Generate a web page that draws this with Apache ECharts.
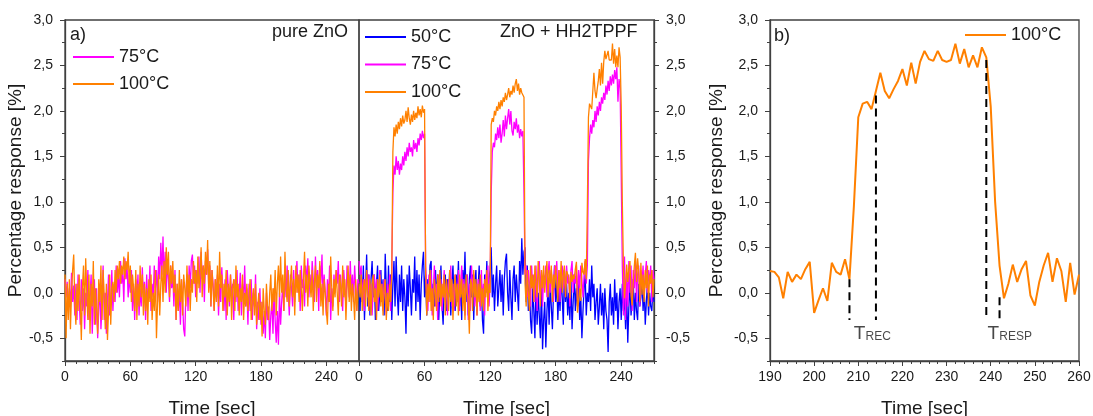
<!DOCTYPE html>
<html><head><meta charset="utf-8">
<script src="https://cdn.jsdelivr.net/npm/echarts@6/dist/echarts.min.js"></script>
<style>html,body{margin:0;padding:0;background:#fff}#c{width:1093px;height:416px}</style>
</head><body><div id="c"></div>
<script>
// ---- data (one sample per second, starting at t = 0 s) ----
const STEP = 1;
const pureZnO_75 = [
0.15,-0.05,0.12,-0.2,0.05,-0.15,0.22,-0.1,0.08,-0.25,
0.1,-0.3,0.2,-0.05,-0.35,0.15,-0.2,0.05,-0.4,0.0,
-0.15,0.25,-0.3,-0.05,0.2,-0.45,-0.1,0.15,-0.35,0.05,
-0.5,-0.2,0.1,-0.4,-0.15,0.3,-0.3,0.0,-0.45,-0.1,
0.2,-0.25,-0.05,0.25,-0.2,0.1,-0.1,0.3,0.0,0.2,
-0.05,0.35,0.1,0.25,-0.1,0.38,0.15,0.3,-0.05,0.2,
0.0,0.25,-0.2,0.1,-0.3,0.15,-0.1,0.2,-0.25,0.05,
-0.15,0.28,-0.05,0.12,-0.3,0.2,-0.1,0.0,0.3,-0.2,
0.1,-0.05,0.3,0.05,0.25,-0.1,0.4,0.15,0.55,0.2,
0.62,0.1,0.45,0.0,0.35,0.15,-0.1,0.3,0.05,0.2,
-0.15,0.25,-0.3,0.1,-0.2,0.05,-0.35,0.15,-0.1,-0.4,
-0.48,0.0,0.2,-0.2,0.3,0.05,0.35,0.42,0.1,0.3,
-0.05,0.25,0.1,0.4,0.0,0.45,0.15,0.3,-0.1,0.35,
0.2,0.48,0.05,0.3,-0.15,0.25,0.1,-0.2,0.15,-0.05,
0.2,-0.25,0.1,-0.1,0.28,0.0,-0.2,0.15,-0.3,0.25,
0.05,-0.15,0.2,-0.05,0.1,-0.3,0.15,-0.1,0.25,-0.2,
0.0,0.22,-0.25,0.1,-0.1,0.3,-0.15,0.05,-0.35,0.1,
-0.2,0.15,-0.3,0.0,-0.15,0.2,-0.4,-0.1,-0.3,0.05,
-0.35,-0.1,-0.45,-0.2,-0.5,0.0,-0.3,-0.15,-0.52,-0.25,
-0.1,-0.45,0.05,-0.3,-0.55,-0.2,-0.57,0.0,-0.35,-0.1,
0.1,-0.2,0.25,-0.05,0.3,0.0,-0.25,0.2,0.05,-0.15,
0.25,-0.1,0.15,0.35,0.0,0.2,-0.2,0.3,0.05,0.15,
-0.15,0.3,0.1,0.38,-0.05,0.2,0.0,0.35,0.15,-0.1,
0.4,0.05,0.25,-0.2,0.3,0.1,0.42,-0.05,0.2,0.0,
-0.25,0.15,-0.1,0.3,-0.3,0.05,-0.15,0.2,0.0,0.25,
0.1,0.35,-0.1,0.2,0.0,-0.2,0.25,0.05,-0.15,0.3,
0.1,-0.05,0.35,0.0,0.2,-0.1,0.3,0.05,-0.2,0.15,0.1];
const pureZnO_100 = [
0.2,-0.5,0.1,-0.3,0.15,-0.4,0.0,0.25,0.42,-0.1,
-0.35,0.1,-0.2,0.2,-0.1,-0.52,0.05,0.3,-0.25,0.38,
0.0,-0.3,0.2,-0.45,0.1,-0.15,0.35,-0.35,0.05,-0.2,
-0.45,0.15,-0.1,0.3,-0.3,0.25,-0.05,-0.4,0.1,-0.52,
-0.2,0.2,-0.35,0.05,0.12,-0.1,0.25,0.0,0.3,0.15,
0.35,0.1,0.3,0.2,0.4,0.15,0.35,0.25,0.45,0.1,
0.3,-0.1,0.2,0.05,-0.2,0.25,-0.3,0.1,-0.15,0.3,
-0.05,0.2,-0.25,0.1,-0.2,0.05,-0.35,0.15,-0.1,0.2,
-0.3,0.0,-0.2,0.25,-0.5,-0.1,0.2,-0.25,0.1,0.3,
-0.1,0.35,0.0,0.5,0.2,0.45,-0.05,0.3,0.1,0.35,
0.0,0.2,-0.3,0.1,-0.2,0.25,-0.1,0.15,-0.25,0.2,
0.05,-0.15,0.3,-0.05,0.2,-0.2,0.15,0.0,0.35,0.1,
0.25,-0.1,0.4,0.05,0.2,0.5,-0.05,0.3,0.1,0.45,
0.2,0.58,0.0,0.35,-0.15,0.25,0.05,-0.2,0.15,-0.1,
0.3,-0.15,0.45,0.05,0.2,-0.2,0.1,-0.05,0.25,-0.25,
0.1,-0.1,0.2,-0.3,0.05,0.15,-0.2,0.3,-0.05,0.1,
-0.25,0.05,-0.1,0.2,-0.3,0.0,-0.15,0.1,-0.2,-0.05,
0.15,-0.3,-0.1,0.05,-0.25,0.1,-0.35,-0.15,0.0,-0.3,
-0.1,-0.48,0.05,-0.2,-0.35,0.1,-0.15,-0.3,0.0,0.2,
-0.2,0.05,-0.1,0.25,-0.25,0.1,0.3,-0.05,0.4,0.0,
0.2,-0.2,0.45,0.05,-0.1,0.25,-0.15,0.1,0.3,-0.05,
0.15,-0.25,0.3,0.0,0.2,-0.1,0.25,0.05,-0.2,0.15,
0.45,0.0,0.2,-0.15,0.3,0.1,-0.05,0.25,-0.2,0.1,
0.3,-0.1,0.2,0.05,0.35,-0.15,0.1,-0.25,0.15,0.0,
-0.2,-0.35,0.1,-0.1,0.4,0.05,-0.2,0.15,-0.05,0.25,
0.0,-0.25,0.2,0.1,-0.15,0.3,-0.05,0.15,-0.3,0.05,
0.3,-0.1,0.2,-0.2,0.1,-0.05,-0.3,0.15,-0.2,0.0,0.1];
const hybrid_50 = [
0.1,-0.2,0.25,-0.1,0.3,-0.3,0.05,0.42,-0.15,0.2,
-0.25,0.15,0.35,-0.05,0.2,-0.3,0.1,0.3,-0.2,0.0,
0.25,-0.1,0.15,-0.25,0.43,0.05,-0.2,0.3,-0.1,0.2,
-0.3,0.1,0.35,-0.15,0.4,0.0,-0.25,0.2,-0.1,0.3,
-0.2,0.15,-0.05,-0.45,0.2,-0.15,0.3,0.05,-0.25,0.15,
0.0,0.4,-0.2,0.25,-0.1,0.2,-0.3,0.1,0.3,0.45,
-0.05,0.2,-0.25,0.15,0.0,0.3,0.35,-0.2,0.1,-0.15,
0.25,-0.1,0.2,-0.3,0.05,0.3,-0.15,-0.35,0.1,0.2,
-0.2,0.15,-0.05,0.25,-0.25,0.1,0.3,-0.1,-0.2,0.2,
0.0,0.35,-0.15,0.1,-0.3,0.25,0.05,0.45,-0.1,0.2,
-0.25,0.15,0.3,-0.05,0.2,-0.3,0.1,0.25,-0.2,0.05,
0.3,-0.15,0.1,-0.3,-0.45,0.2,0.0,0.35,-0.1,0.15,
0.25,0.5,-0.05,0.2,-0.2,0.1,0.3,-0.15,0.05,0.25,
-0.1,0.2,-0.25,0.15,0.35,0.43,0.0,-0.2,0.25,-0.05,
-0.3,0.15,0.3,-0.1,0.2,0.0,-0.2,0.35,0.1,0.6,
0.2,0.45,0.5,-0.1,0.3,-0.2,0.1,-0.3,-0.45,0.05,
-0.2,-0.5,0.15,-0.35,0.0,-0.25,-0.5,0.1,-0.62,-0.3,
-0.1,-0.6,-0.2,0.05,-0.35,0.1,-0.15,-0.4,0.0,0.3,
-0.1,0.15,-0.3,0.05,-0.2,0.2,-0.05,-0.35,0.25,-0.1,
0.1,-0.25,0.0,-0.3,0.15,-0.4,-0.1,0.2,-0.2,0.05,
-0.15,0.1,-0.3,-0.05,-0.5,-0.2,0.05,0.2,-0.25,0.0,
-0.1,0.15,-0.2,0.3,-0.05,0.1,-0.3,-0.1,0.05,-0.35,
-0.15,0.1,-0.25,0.0,-0.4,0.05,-0.2,-0.3,-0.65,-0.1,
0.1,-0.25,-0.05,-0.35,0.15,-0.2,0.0,-0.4,-0.1,0.05,
-0.3,0.1,-0.2,-0.05,-0.4,0.0,-0.55,-0.15,0.1,-0.25,
-0.05,0.15,-0.3,0.0,-0.2,-0.3,0.1,-0.15,-0.05,0.2,
-0.2,0.05,-0.35,-0.1,0.1,-0.25,0.0,-0.15,-0.2,0.05,-0.1];
const hybrid_75 = [
0.35,0.2,0.3,-0.1,0.15,-0.2,0.1,0.25,-0.05,0.2,
-0.15,0.1,-0.25,0.05,0.2,-0.1,0.15,-0.2,0.0,0.25,
-0.1,0.1,-0.2,0.15,-0.05,-0.25,0.1,-0.15,0.2,-0.2,
0.3,1.1,1.4,1.3,1.5,1.35,1.45,1.3,1.42,1.35,
1.5,1.4,1.55,1.45,1.6,1.5,1.65,1.55,1.6,1.5,
1.68,1.58,1.65,1.55,1.7,1.62,1.75,1.68,1.78,1.7,
1.75,0.3,0.05,-0.2,0.2,-0.1,0.25,-0.25,0.05,0.3,
-0.15,0.1,-0.3,0.2,-0.05,0.15,-0.2,0.05,0.25,-0.1,
0.1,-0.25,0.15,0.0,0.3,-0.15,0.1,-0.2,0.2,0.05,
-0.1,0.25,-0.2,0.1,0.3,-0.05,0.15,-0.25,0.05,0.2,
-0.3,0.1,-0.2,0.3,0.0,0.2,-0.15,0.1,-0.25,0.15,
0.05,-0.2,0.25,-0.1,0.1,-0.25,0.2,0.0,0.3,-0.15,
0.1,1.1,1.55,1.65,1.6,1.75,1.68,1.82,1.7,1.85,
1.65,1.75,1.9,1.72,1.95,1.8,1.92,2.02,1.85,2.0,
1.78,1.73,1.88,1.8,1.92,1.76,1.85,1.7,1.8,1.72,
1.78,1.1,0.2,0.3,-0.05,0.25,0.1,-0.15,0.3,0.05,
0.2,-0.1,0.3,-0.2,0.15,0.35,0.0,0.25,-0.15,0.2,
0.1,0.3,-0.05,0.2,0.35,0.0,0.25,0.1,-0.1,0.3,
0.15,0.35,0.0,0.25,-0.1,0.2,0.3,0.05,0.25,-0.05,
0.3,0.1,0.2,-0.15,0.25,0.35,0.0,0.2,0.1,0.3,
-0.1,0.25,0.05,0.3,0.15,-0.05,0.2,0.35,0.1,0.3,
1.45,1.7,1.85,1.75,1.9,1.82,2.0,1.88,2.05,1.95,
2.1,2.0,2.15,2.08,2.2,2.12,2.28,2.18,2.33,2.22,
2.38,2.28,2.4,2.3,2.45,2.35,2.48,2.1,2.35,2.25,
1.3,0.3,-0.25,0.4,-0.3,0.2,-0.15,0.35,0.0,0.3,
-0.2,0.25,0.05,0.35,-0.1,0.2,0.3,-0.15,0.25,0.1,
0.3,-0.05,0.2,0.35,0.0,0.25,0.1,0.3,-0.1,0.25,0.15];
const hybrid_100 = [
0.1,-0.05,0.2,-0.2,0.05,0.15,-0.15,0.25,0.0,-0.2,
0.15,-0.25,0.1,0.2,-0.1,0.05,-0.3,0.15,-0.05,0.2,
-0.15,0.1,-0.25,0.05,0.15,-0.3,0.0,-0.2,0.1,-0.1,
0.2,1.55,1.82,1.72,1.85,1.75,1.88,1.8,1.92,1.83,
1.95,1.86,1.9,2.0,1.88,2.04,1.92,1.85,1.96,1.88,
2.0,1.9,1.98,1.92,2.05,1.95,2.02,1.93,2.06,1.98,
2.02,0.2,-0.25,0.1,-0.1,0.25,-0.2,0.05,-0.3,0.15,
0.0,-0.2,0.2,-0.1,0.25,-0.15,0.1,-0.05,0.2,-0.25,
0.15,0.0,-0.2,0.25,-0.1,0.15,-0.3,0.05,0.2,-0.15,
0.1,-0.25,0.2,-0.05,0.15,-0.2,0.1,-0.3,0.2,0.0,
-0.1,-0.45,0.15,0.1,-0.2,0.25,-0.05,0.15,-0.25,0.1,
-0.1,0.2,-0.15,0.05,-0.2,0.15,-0.05,0.25,-0.2,0.1,
0.0,1.85,1.92,1.88,2.0,1.95,2.05,2.0,2.1,2.02,
2.12,2.05,2.15,2.1,2.2,2.12,2.18,2.25,2.15,2.22,
2.18,2.28,2.2,2.3,2.35,2.22,2.3,2.18,2.25,2.2,
2.22,2.15,0.1,-0.15,0.25,0.0,-0.2,0.3,0.05,0.2,
-0.1,0.3,0.1,-0.05,0.35,0.15,-0.15,0.25,0.05,0.3,
0.0,0.2,0.35,-0.05,0.25,0.1,0.3,-0.1,0.2,0.05,
0.3,0.1,-0.1,0.25,0.05,0.35,0.0,0.2,0.3,-0.05,
0.24,0.23,0.17,-0.06,0.23,0.12,0.2,0.15,0.26,0.34,
-0.22,-0.08,0.05,-0.09,0.33,0.23,0.2,0.37,0.15,0.95,
1.93,2.08,2.10,2.02,2.22,2.42,2.22,2.14,2.24,2.33,
2.46,2.28,2.53,2.30,2.54,2.66,2.57,2.55,2.66,2.56,
2.54,2.56,2.74,2.52,2.68,2.48,2.61,2.48,2.70,2.59,
2.05,1.0,0.3,-0.06,0.10,0.31,0.12,0.26,0.35,-0.03,
-0.14,0.12,0.30,0.44,0.12,0.38,0.24,-0.10,0.33,-0.02,
0.20,-0.1,0.25,0.05,0.3,-0.15,0.2,0.1,0.25,-0.05,0.15];

// axis tick values / ranges
const timeTicks = [0, 60, 120, 180, 240];
const respTicks = [-0.5, 0, 0.5, 1.0, 1.5, 2.0, 2.5, 3.0];
const zoomRange = [190, 260];
// annotation lines in panel b: [time, top value]; all drop to dashBottom
const recLines = [[208, 0.15], [214, 2.17]];
const respLines = [[239, 2.56], [242, -0.05]];
const dashBottom = -0.30;
const recLabelAt = [209, -0.45];
const respLabelAt = [239.3, -0.45];

// ---- chart ----
const FONT = 'Liberation Sans, Arial, sans-serif';
const AX = '#404040', TXT = '#1a1a1a';
const C_MAG = '#ff00ff', C_ORG = '#ff8000', C_BLU = '#0000ff';
const YMIN = -0.75, YMAX = 3.0;
const pairs = arr => arr.map((v, i) => [i * STEP, v]);
const bData = pairs(hybrid_100).filter(p => p[0] >= zoomRange[0] && p[0] <= zoomRange[1]);
const comma = v => v.toFixed(1).replace('.', ',');

const rects = [
  {left: 65, top: 20, width: 294, height: 341},
  {left: 359, top: 20, width: 295, height: 341},
  {left: 770, top: 20, width: 309, height: 341}
];
const grid = [];
rects.forEach(r => grid.push(Object.assign({show: true, borderColor: AX, borderWidth: 1.3, backgroundColor: 'transparent', outerBoundsMode: 'none', containLabel: false}, r)));
rects.forEach(r => grid.push(Object.assign({show: false, outerBoundsMode: 'none', containLabel: false}, r))); // overlay grids for minor ticks

const labelStyle = {color: TXT, fontFamily: FONT, fontSize: 14};
const nameStyle = {color: TXT, fontFamily: FONT, fontSize: 19};
const lineAx = {show: true, onZero: false, lineStyle: {color: AX, width: 1.3}};
const noLine = {show: false, onZero: false};

const xAxis = [
  {type: 'value', gridIndex: 0, min: 0, max: 270, axisLine: lineAx, splitLine: {show: false},
   axisTick: {customValues: timeTicks, length: 5, lineStyle: {color: AX}},
   axisLabel: Object.assign({customValues: timeTicks, margin: 9}, labelStyle),
   name: 'Time [sec]', nameLocation: 'middle', nameGap: 38, nameTextStyle: nameStyle},
  {type: 'value', gridIndex: 1, min: 0, max: 270, axisLine: lineAx, splitLine: {show: false},
   axisTick: {customValues: timeTicks, length: 5, lineStyle: {color: AX}},
   axisLabel: Object.assign({customValues: timeTicks, margin: 9}, labelStyle),
   name: 'Time [sec]', nameLocation: 'middle', nameGap: 38, nameTextStyle: nameStyle},
  {type: 'value', gridIndex: 2, min: zoomRange[0], max: zoomRange[1], interval: 10, axisLine: lineAx, splitLine: {show: false},
   axisTick: {length: 5, lineStyle: {color: AX}},
   minorTick: {show: true, splitNumber: 5, length: 3, lineStyle: {color: AX}},
   axisLabel: Object.assign({margin: 9}, labelStyle),
   name: 'Time [sec]', nameLocation: 'middle', nameGap: 38, nameTextStyle: nameStyle},
  // minor tick overlays
  {type: 'value', gridIndex: 3, min: 0, max: 270, interval: 10, axisLine: noLine, splitLine: {show: false},
   axisTick: {length: 3, lineStyle: {color: AX}}, axisLabel: {show: false}},
  {type: 'value', gridIndex: 4, min: 0, max: 270, interval: 10, axisLine: noLine, splitLine: {show: false},
   axisTick: {length: 3, lineStyle: {color: AX}}, axisLabel: {show: false}},
  {type: 'value', gridIndex: 5, min: zoomRange[0], max: zoomRange[1], interval: 10, axisLine: noLine, splitLine: {show: false},
   axisTick: {show: false}, axisLabel: {show: false}}
];
function yMain(gi, pos, extra) {
  return Object.assign({type: 'value', gridIndex: gi, position: pos, min: YMIN, max: YMAX,
    axisLine: lineAx, splitLine: {show: false},
    axisTick: {customValues: respTicks, length: 5, lineStyle: {color: AX}},
    axisLabel: Object.assign({customValues: respTicks, margin: 12, formatter: v => comma(v)}, labelStyle)}, extra || {});
}
function yMinor(gi, pos) {
  return {type: 'value', gridIndex: gi, position: pos, min: YMIN, max: YMAX, interval: 0.25,
    axisLine: noLine, splitLine: {show: false},
    axisTick: {length: 3, lineStyle: {color: AX}}, axisLabel: {show: false}};
}
const yAxis = [
  yMain(0, 'left', {name: 'Percentage response [%]', nameLocation: 'middle', nameGap: 33, nameRotate: 90, nameTextStyle: nameStyle}),
  yMain(1, 'right'),
  yMain(2, 'left', {name: 'Percentage response [%]', nameLocation: 'middle', nameGap: 44, nameRotate: 90, nameTextStyle: nameStyle}),
  yMinor(3, 'left'), yMinor(4, 'right'), yMinor(5, 'left')
];

const lineSeries = (name, data, color, xi, yi, w) => ({
  type: 'line', name, data, xAxisIndex: xi, yAxisIndex: yi, symbol: 'none', showSymbol: false,
  lineStyle: {color, width: w}, itemStyle: {color}, silent: true, animation: false, z: 2
});
const series = [
  lineSeries('75°C', pairs(pureZnO_75), C_MAG, 0, 0, 1.3),
  lineSeries('100°C', pairs(pureZnO_100), C_ORG, 0, 0, 1.3),
  lineSeries('50°C', pairs(hybrid_50), C_BLU, 1, 1, 1.3),
  lineSeries('75°C', pairs(hybrid_75), C_MAG, 1, 1, 1.3),
  lineSeries('100°C', pairs(hybrid_100), C_ORG, 1, 1, 1.3),
  lineSeries('100°C', bData, C_ORG, 2, 2, 2)
];
recLines.concat(respLines).forEach(([t, top]) => {
  series.push({type: 'line', name: 'marker', data: [[t, top], [t, dashBottom]], xAxisIndex: 2, yAxisIndex: 2,
    symbol: 'none', silent: true, animation: false, z: 3,
    lineStyle: {color: '#000', width: 2, type: [8, 5]}});
});
const richT = {
  t: {fontFamily: FONT, fontSize: 19, color: TXT, lineHeight: 18, padding: [0, 0, 4, 0], verticalAlign: 'top'},
  s: {fontFamily: FONT, fontSize: 12, color: TXT, lineHeight: 12, verticalAlign: 'bottom'}
};
[[recLabelAt, 'REC'], [respLabelAt, 'RESP']].forEach(([pt, sub]) => {
  series.push({type: 'scatter', name: 'lbl', data: [pt], xAxisIndex: 2, yAxisIndex: 2, symbolSize: 0,
    silent: true, animation: false, z: 4,
    label: {show: true, position: [0, 0], align: 'left', verticalAlign: 'middle',
      formatter: '{t|T}{s|' + sub + '}', rich: richT}});
});

const legendBase = {orient: 'vertical', itemWidth: 41, itemHeight: 14, icon: 'path://M0,6 L41,6 L41,8 L0,8 Z',
  textStyle: {color: TXT, fontFamily: FONT, fontSize: 18}, selectedMode: false, padding: 0};
const legend = [
  Object.assign({}, legendBase, {data: ['75°C', '100°C'], left: 73, top: 48, itemGap: 9}),
  Object.assign({}, legendBase, {data: ['50°C', '75°C', '100°C'], left: 365, top: 28, itemGap: 9.5}),
  Object.assign({}, legendBase, {data: ['100°C'], left: 965, top: 26})
];

const txt = (x, y, text, align) => ({type: 'text', x, y, silent: true,
  style: {text, fill: TXT, font: '18px ' + FONT, align: align || 'left', verticalAlign: 'middle'}});

const chart = echarts.init(document.getElementById('c'), null, {renderer: 'canvas'});
chart.setOption({
  animation: false,
  backgroundColor: '#fff',
  grid, xAxis, yAxis, series, legend,
  graphic: [
    txt(70, 35, 'a)'),
    txt(348, 32, 'pure ZnO', 'right'),
    txt(500, 32, 'ZnO + HH2TPPF'),
    txt(774, 36, 'b)')
  ]
});
</script></body></html>
